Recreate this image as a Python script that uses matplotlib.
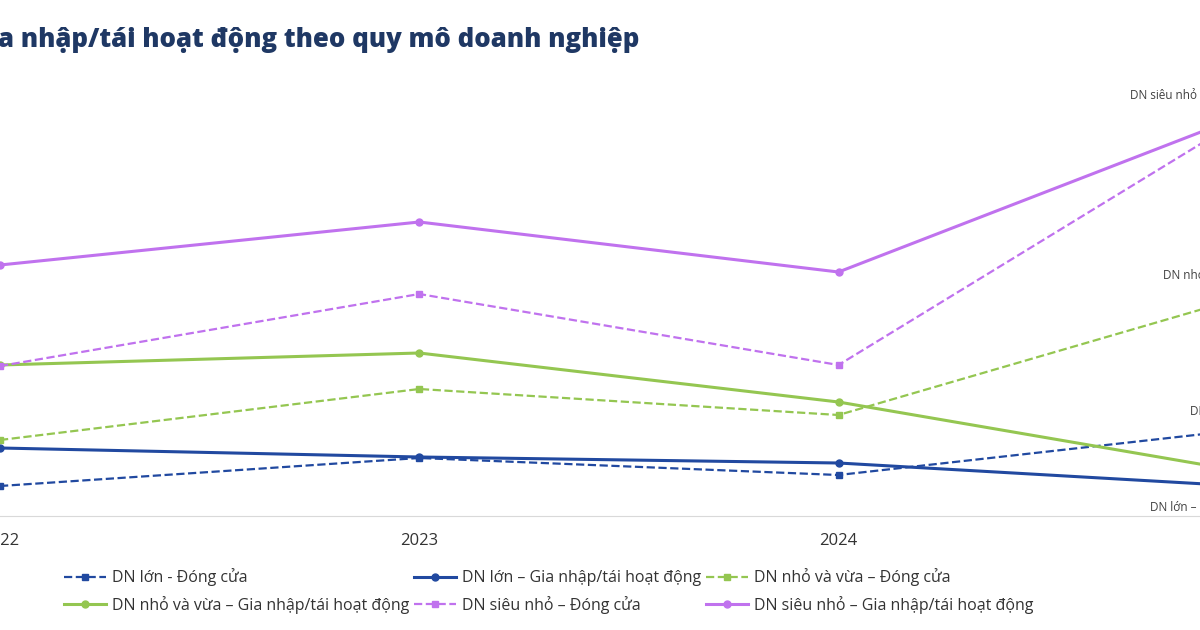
import matplotlib.pyplot as plt

plt.rcParams['font.family'] = ['Open Sans', 'DejaVu Sans']

years = [2022, 2023, 2024, 2025]
# values (relative units)
lon_dong = [3.0, 5.8, 4.1, 8.8]
lon_gia = [6.8, 5.9, 5.3, 2.9]
nho_dong = [7.6, 12.7, 10.1, 22.3]
nho_gia = [15.1, 16.3, 11.4, 4.2]
sieu_dong = [15.0, 22.2, 15.1, 40.7]
sieu_gia = [25.1, 29.4, 24.4, 40.6]

blue = '#2149A0'
green = '#94C651'
purple = '#C072EE'

fig = plt.figure(figsize=(12, 6.3), dpi=100)
ax = fig.add_axes([0, (630 - 516) / 630, 1, (516 - 60) / 630])

h_bd, = ax.plot(years, lon_dong, '--', color=blue, marker='s', ms=5, lw=1.6)
h_bs, = ax.plot(years, lon_gia, '-', color=blue, marker='o', ms=5, lw=2.2)
h_gd, = ax.plot(years, nho_dong, '--', color=green, marker='s', ms=5, lw=1.6)
h_gs, = ax.plot(years, nho_gia, '-', color=green, marker='o', ms=5, lw=2.2)
h_pd, = ax.plot(years, sieu_dong, '--', color=purple, marker='s', ms=5, lw=1.6)
h_ps, = ax.plot(years, sieu_gia, '-', color=purple, marker='o', ms=5, lw=2.2)

ax.set_xlim(2022 + 5 / 421, 2022 + 1205 / 421)
ax.set_ylim(0, 45.6)
ax.set_xticks([2022, 2023, 2024])
ax.set_xticklabels(['2022', '2023', '2024'])
ax.tick_params(axis='x', length=0, pad=12, labelsize=12, labelcolor='#333333')
ax.set_yticks([])
for s in ['top', 'left', 'right']:
    ax.spines[s].set_visible(False)
ax.spines['bottom'].set_color('#D9D9D9')

# end labels near 2025
lab_style = dict(fontsize=8.5, color='#404040', transform=fig.transFigure)
fig.text(1130 / 1200, 1 - 95 / 630, 'DN siêu nhỏ – Gia nhập/tái hoạt động', va='center', **lab_style)
fig.text(1163 / 1200, 1 - 275 / 630, 'DN nhỏ và vừa – Đóng cửa', va='center', **lab_style)
fig.text(1190 / 1200, 1 - 411 / 630, 'DN lớn - Đóng cửa', va='center', **lab_style)
fig.text(1150 / 1200, 1 - 507 / 630, 'DN lớn – Gia nhập/tái hoạt động', va='center', **lab_style)

fig.text(-2 / 1200, 1 - 40 / 630, 'a nhập/tái hoạt động theo quy mô doanh nghiệp',
         fontsize=18.5, fontweight='heavy', color='#1F3864', va='center')

handles = [h_bd, h_gs, h_bs, h_pd, h_gd, h_ps]
labels = ['DN lớn - Đóng cửa', 'DN nhỏ và vừa – Gia nhập/tái hoạt động',
          'DN lớn – Gia nhập/tái hoạt động', 'DN siêu nhỏ – Đóng cửa',
          'DN nhỏ và vừa – Đóng cửa', 'DN siêu nhỏ – Gia nhập/tái hoạt động']
fig.legend(handles, labels, ncol=3, loc='center left', bbox_to_anchor=(50 / 1200, 1 - 591 / 630),
           frameon=False, fontsize=11.5, labelcolor='#333333', columnspacing=0.3,
           handlelength=2.6, handletextpad=0.4, labelspacing=0.6)

fig.savefig('out.png', dpi=100)
